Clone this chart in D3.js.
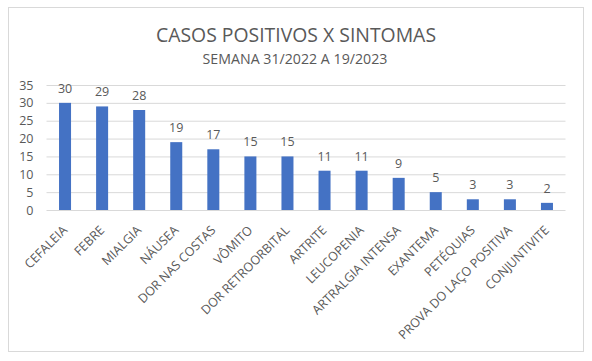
<!DOCTYPE html>
<html>
<head>
<meta charset="utf-8">
<script src="https://cdn.jsdelivr.net/npm/d3@7"></script>
<style>
	body { margin: 0; background: #fff; }
	text { font-family: "Open Sans", sans-serif; fill: #595959; }
</style>
</head>
<body>
<div id="chart"></div>
<script>
const categories = ['CEFALEIA', 'FEBRE', 'MIALGIA', 'NÁUSEA', 'DOR NAS COSTAS', 'VÔMITO',
	'DOR RETROORBITAL', 'ARTRITE', 'LEUCOPENIA', 'ARTRALGIA INTENSA', 'EXANTEMA',
	'PETÉQUIAS', 'PROVA DO LAÇO POSITIVA', 'CONJUNTIVITE']
const values = [30, 29, 28, 19, 17, 15, 15, 11, 11, 9, 5, 3, 3, 2]
const yTicks = [0, 5, 10, 15, 20, 25, 30, 35]
const chartTitle = 'CASOS POSITIVOS X SINTOMAS'
const chartSubtitle = 'SEMANA 31/2022 A 19/2023'

const render = ({htmlComponent}) => {
	const width = 592
	const height = 361
	const plot = { left: 46.5, right: 565.5, top: 85, bottom: 210 }

	const svg = d3.select(htmlComponent).append('svg')
		.attr('width', width)
		.attr('height', height)

	svg.append('rect')
		.attr('x', 8.5).attr('y', 7.5)
		.attr('width', 575).attr('height', 344)
		.attr('fill', '#fff')
		.attr('stroke', '#d9d9d9')

	svg.append('text')
		.attr('x', 296).attr('y', 42)
		.attr('text-anchor', 'middle')
		.style('font-size', '19.4px')
		.text(chartTitle)

	svg.append('text')
		.attr('x', 295).attr('y', 64)
		.attr('text-anchor', 'middle')
		.style('font-size', '14.2px')
		.text(chartSubtitle)

	const xScale = d3.scaleBand()
		.domain(categories)
		.range([plot.left, plot.right])
		.paddingInner(0.676)
		.paddingOuter(0.338)

	const yScale = d3.scaleLinear()
		.domain([0, 35])
		.range([plot.bottom, plot.top])

	// gridlines + y labels
	const yAxis = d3.axisLeft(yScale)
		.tickValues(yTicks)
		.tickSize(-(plot.right - plot.left))
		.tickPadding(13)

	const yG = svg.append('g')
		.attr('transform', `translate(${plot.left}, 0)`)
		.call(yAxis)
	yG.select('.domain').remove()
	yG.selectAll('line').attr('stroke', '#d9d9d9')
	yG.selectAll('text')
		.attr('font-family', null)
		.style('font-size', '12.5px')
		.style('fill', '#595959')

	svg.selectAll('rect.bar').data(values)
		.enter()
		.append('rect')
			.attr('class', 'bar')
			.attr('x', (d, i) => xScale(categories[i]))
			.attr('y', d => yScale(d))
			.attr('width', xScale.bandwidth())
			.attr('height', d => yScale(0) - yScale(d))
			.attr('fill', '#4472c4')

	svg.selectAll('text.value').data(values)
		.enter()
		.append('text')
			.attr('class', 'value')
			.attr('x', (d, i) => xScale(categories[i]) + xScale.bandwidth() / 2)
			.attr('y', d => yScale(d) - 10)
			.attr('text-anchor', 'middle')
			.style('font-size', '12.5px')
			.text(d => d)

	const xAxis = d3.axisBottom(xScale).tickSize(0).tickPadding(0)
	const xG = svg.append('g')
		.attr('transform', `translate(0, ${plot.bottom})`)
		.call(xAxis)
	xG.select('.domain').remove()
	xG.selectAll('text')
		.attr('font-family', null)
		.attr('y', 0)
		.attr('dy', null)
		.attr('text-anchor', 'end')
		.attr('transform', 'translate(3, 21) rotate(-45)')
		.style('font-size', '12.5px')
		.style('fill', '#595959')
}

render({ htmlComponent: '#chart' })
</script>
</body>
</html>
